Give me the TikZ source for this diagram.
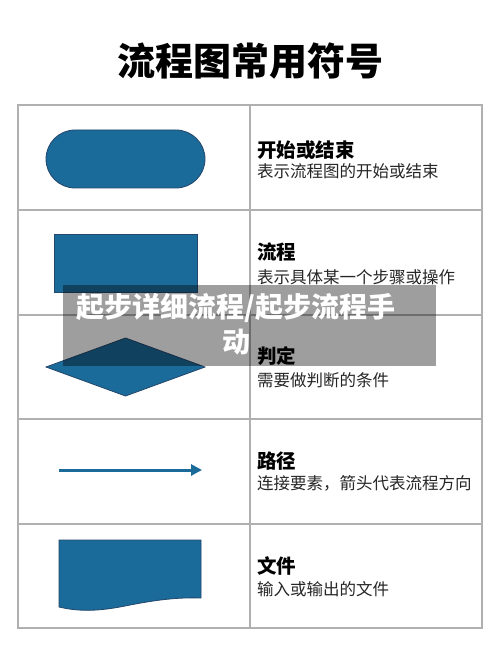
\documentclass[tikz,border=0pt]{standalone}
\usepackage{fontspec}
\setmainfont{Noto Sans CJK SC}
\usetikzlibrary{arrows.meta}
\definecolor{symblue}{HTML}{1A6A9A}
\definecolor{symedge}{HTML}{24476B}
\definecolor{gridgray}{HTML}{B0B0B0}
\begin{document}
\begin{tikzpicture}[x=1pt,y=-1pt,
 grid/.style={draw=gridgray,line width=1.5pt},
 sym/.style={fill=symblue,draw=symedge,line width=0.8pt},
 ttl/.style={anchor=west,inner sep=0pt,font=\fontsize{19.5}{22}\selectfont\bfseries},
 desc/.style={anchor=west,inner sep=0pt,font=\fontsize{16.5}{19}\selectfont,text=black!85},
]
\useasboundingbox[fill=white] (0,0) rectangle (500,652);
\node[font=\fontsize{38}{44}\selectfont\bfseries,inner sep=0pt] (title) at (250,61) {流程图常用符号};
% grid
\draw[grid] (18,105) rectangle (482,628);
\draw[grid] (250,105) -- (250,628);
\foreach \y in {210,315,419,524} \draw[grid] (18,\y) -- (482,\y);
% symbols
\node[sym,rectangle,rounded corners=29pt,minimum width=159pt,minimum height=58pt,inner sep=0pt] (term) at (125.5,159) {};
\node[sym,rectangle,minimum width=143pt,minimum height=58pt,inner sep=0pt] (proc) at (125.5,263) {};
\draw[sym] (46,367) -- (125.5,338) -- (205,367) -- (125.5,396) -- cycle;
\coordinate (a1) at (59,470);
\coordinate (a2) at (202,470);
\draw[symblue,line width=3pt,-{Triangle[length=11pt,width=11pt]}] (a1) -- (a2);
\draw[sym] (59,540) -- (201,540) -- (201,598)
  .. controls (175,597) and (150,601) .. (125,606)
  .. controls (100,611) and (80,612) .. (59,607) -- cycle;
% texts
\node[ttl] (t1) at (257,150) {开始或结束};
\node[desc] (d1) at (257,171) {表示流程图的开始或结束};
\node[ttl] (t2) at (257,252) {流程};
\node[desc] (d2) at (257,277) {表示具体某一个步骤或操作};
\node[ttl] (t3) at (257,356) {判定};
\node[desc] (d3) at (257,380) {需要做判断的条件};
\node[ttl] (t4) at (257,461) {路径};
\node[desc] (d4) at (257,483) {连接要素，箭头代表流程方向};
\node[ttl] (t5) at (257,566) {文件};
\node[desc] (d5) at (257,589) {输入或输出的文件};
% overlay
\fill[black,opacity=0.38] (63,285) rectangle (436,366);
\node[text=white,font=\fontsize{28}{35}\selectfont\bfseries,align=center,inner sep=0pt] (ov) at (236,324) {起步详细流程/起步流程手\\动};
\end{tikzpicture}
\end{document}
